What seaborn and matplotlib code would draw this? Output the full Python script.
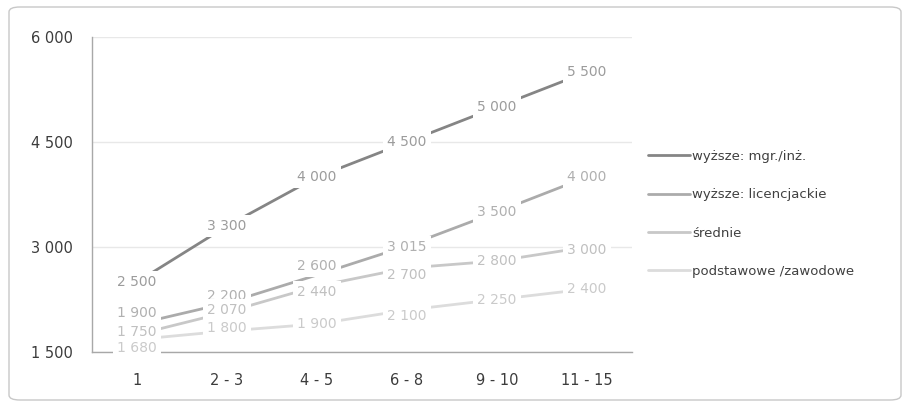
import matplotlib
matplotlib.use("Agg")
import matplotlib.pyplot as plt
import seaborn as sns
import pandas as pd
from matplotlib.patches import FancyBboxPatch
from matplotlib.lines import Line2D

# Years of experience groups
categories = ["1", "2 - 3", "4 - 5", "6 - 8", "9 - 10", "11 - 15"]

# Salary by education level
mgr_inz = [2500, 3300, 4000, 4500, 5000, 5500]
licencjackie = [1900, 2200, 2600, 3015, 3500, 4000]
srednie = [1750, 2070, 2440, 2700, 2800, 3000]
podstawowe = [1680, 1800, 1900, 2100, 2250, 2400]

series_names = ["wyższe: mgr./inż.", "wyższe: licencjackie", "średnie", "podstawowe /zawodowe"]
series_values = [mgr_inz, licencjackie, srednie, podstawowe]
y_ticks = [1500, 3000, 4500, 6000]

line_colors = ["#858585", "#ababab", "#c8c8c8", "#dcdcdc"]
label_colors = ["#9c9c9c", "#b0b0b0", "#c0c0c0", "#cacaca"]

# vertical nudges (pixels, positive = down) that keep crowded labels apart
label_nudge = [
    [0, 0, 0, 0, 0, 0],
    [-11, -7, -9, 1, 0, 0],
    [-3, -2, 6, 7, 0, 3],
    [9, -3, 0, 6, 0, 0],
]

rows = []
for name, vals in zip(series_names, series_values):
    for cat, v in zip(categories, vals):
        rows.append({"staż": cat, "wynagrodzenie": v, "wykształcenie": name})
df = pd.DataFrame(rows)

sns.set_theme(style="white")
plt.rcParams["font.family"] = ["DejaVu Sans"]

DPI = 100
fig = plt.figure(figsize=(9.1, 4.08), dpi=DPI)
W, H = 910, 408
ax = fig.add_axes([92 / W, 1 - 352 / H, 540 / W, 315 / H])

# outer rounded frame
frame = FancyBboxPatch((9 / W, 8 / H), 892 / W, 393 / H,
                       boxstyle="round,pad=0,rounding_size=0.012",
                       transform=fig.transFigure, facecolor="white",
                       edgecolor="#c8c8c8", linewidth=1.0, zorder=-10)
fig.patches.append(frame)

sns.lineplot(data=df, x="staż", y="wynagrodzenie", hue="wykształcenie",
             palette=dict(zip(series_names, line_colors)), linewidth=2.0,
             sort=False, legend=False, ax=ax)

px = 72.0 / DPI
for vals, lc, nudges in zip(series_values, label_colors, label_nudge):
    for i, (v, dy) in enumerate(zip(vals, nudges)):
        ax.annotate(f"{v:,}".replace(",", " "), xy=(i, v), xytext=(0, -dy * px),
                    textcoords="offset points", ha="center", va="center",
                    fontsize=10, color=lc, zorder=5,
                    bbox=dict(boxstyle="square,pad=0.3", facecolor="white", edgecolor="none"))

ax.set_xlim(-0.5, len(categories) - 0.5)
ax.set_ylim(y_ticks[0], y_ticks[-1])
ax.set_yticks(y_ticks)
ax.set_yticklabels([f"{t:,}".replace(",", " ") for t in y_ticks], fontsize=10.5, color="#3c3c3c")
ax.set_xticks(range(len(categories)))
ax.set_xticklabels(categories, fontsize=10.5, color="#3c3c3c")
ax.set_xticks([i + 0.5 for i in range(-1, len(categories))], minor=True)
ax.tick_params(axis="x", which="major", length=0, pad=15)
ax.tick_params(axis="x", which="minor", length=4, color="#b0b0b0", direction="out")
ax.tick_params(axis="y", length=4, color="#b0b0b0", direction="out", pad=10)
ax.set_xlabel("")
ax.set_ylabel("")
ax.grid(axis="y", color="#e8e8e8", linewidth=1.0)
ax.set_axisbelow(True)
for s in ["top", "right"]:
    ax.spines[s].set_visible(False)
for s in ["left", "bottom"]:
    ax.spines[s].set_color("#a8a8a8")
    ax.spines[s].set_linewidth(1.0)

handles = [Line2D([0], [0], color=c, linewidth=2.0) for c in line_colors]
fig.legend(handles, series_names, loc="upper left",
           bbox_to_anchor=(636 / W, 1 - 138 / H), frameon=False,
           handlelength=3.2, handletextpad=0.15, labelspacing=1.92,
           fontsize=9.5, labelcolor="#404040")

fig.savefig("out.png", dpi=DPI, facecolor="white")
